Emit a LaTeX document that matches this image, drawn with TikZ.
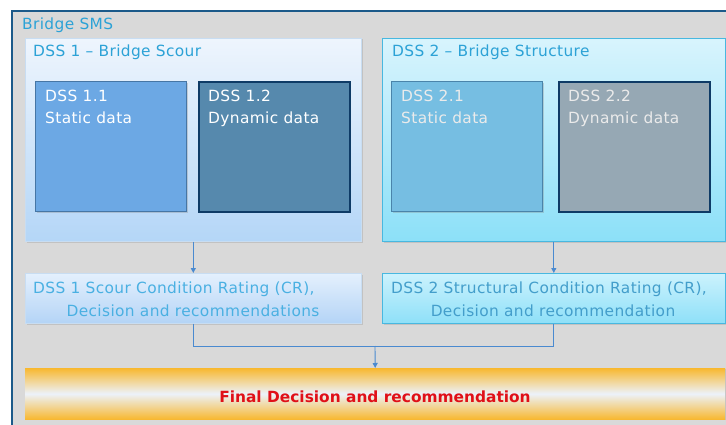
\documentclass[tikz,border=0pt]{standalone}
\usepackage{fontspec}
\setmainfont{DejaVu Sans}[LetterSpace=2.4]
\newfontfamily\tightfont{DejaVu Sans}
\usetikzlibrary{arrows.meta,shadows}

\definecolor{framecol}{HTML}{1B5A8A}
\definecolor{panelgray}{HTML}{D9D9D9}
\definecolor{titlecol}{HTML}{2CA2D6}
\definecolor{crtext}{HTML}{4AB0E2}
\definecolor{conncol}{HTML}{4A8AD0}
\definecolor{navy}{HTML}{0E3B66}
% group and box colours
\definecolor{oneedge}{HTML}{C8DDF2}
\definecolor{onetop}{HTML}{EEF5FD}
\definecolor{onebot}{HTML}{B4D6F7}
\definecolor{twoedge}{HTML}{48B8E0}
\definecolor{twotop}{HTML}{D8F4FD}
\definecolor{twobot}{HTML}{8CE0F8}
\definecolor{crtopone}{HTML}{E4F0FD}
\definecolor{crbotone}{HTML}{B4D4F6}
\definecolor{crtoptwo}{HTML}{CCF2FD}
\definecolor{crbottwo}{HTML}{8EE0F8}
\definecolor{staticone}{HTML}{6CA8E4}
\definecolor{staticoneedge}{HTML}{4676A5}
\definecolor{dynone}{HTML}{5689AD}
\definecolor{statictwo}{HTML}{76BEE2}
\definecolor{statictwoedge}{HTML}{4A84AA}
\definecolor{dyntwo}{HTML}{96A8B4}
\definecolor{amber}{HTML}{F8B830}
\definecolor{paleband}{HTML}{ECF2FA}
\definecolor{finalred}{HTML}{E01018}

\tikzset{
  x=1pt, y=-1pt,
  txt/.style={font=\fontsize{15.4}{22}\selectfont, inner sep=0pt, anchor=base west},
  groupbox/.style={draw=#1, line width=0.6pt, anchor=north west,
    drop shadow={shadow xshift=1.2pt, shadow yshift=-1.2pt, opacity=0.25}},
  databox/.style={anchor=north west, minimum width=151pt, minimum height=130pt,
    drop shadow={shadow xshift=1pt, shadow yshift=-1pt, opacity=0.3}},
  conn/.style={draw=conncol, line width=0.9pt},
  tip/.style={-{Triangle[length=5pt,width=5pt]}},
}

\begin{document}
\begin{tikzpicture}
\useasboundingbox (0,0) rectangle (726,425);
\fill[white] (0,0) rectangle (726,425);
% grey panel with its dark frame on top and left
\fill[panelgray] (12,11) rectangle (726,425);
\draw[framecol, line width=2pt] (12,425) -- (12,11) -- (726,11);
\node[txt, text=titlecol] (sms) at (22,30) {Bridge SMS};

% DSS 1 group
\node[groupbox=oneedge, top color=onetop, bottom color=onebot,
      minimum width=336pt, minimum height=203pt] (dss1) at (25,38) {};
\node[txt, text=titlecol] (t1) at (33,57) {DSS 1 – Bridge Scour};
\node[databox, fill=staticone, draw=staticoneedge, line width=1.4pt] (d11) at (35,81) {};
\node[txt, text=white] (d11a) at (45,102) {DSS 1.1};
\node[txt, text=white] (d11b) at (45,124) {Static data};
\node[databox, fill=dynone, draw=navy, line width=2pt] (d12) at (198,81) {};
\node[txt, text=white] (d12a) at (208,102) {DSS 1.2};
\node[txt, text=white] (d12b) at (208,124) {Dynamic data};

% DSS 2 group
\node[groupbox=twoedge, top color=twotop, bottom color=twobot,
      minimum width=343pt, minimum height=203pt] (dss2) at (382,38) {};
\node[txt, text=titlecol] (t2) at (392,57) {DSS 2 – Bridge Structure};
\node[databox, fill=statictwo, draw=statictwoedge, line width=1.4pt] (d21) at (391,81) {};
\node[txt, text=white!92!black] (d21a) at (401,102) {DSS 2.1};
\node[txt, text=white!92!black] (d21b) at (401,124) {Static data};
\node[databox, fill=dyntwo, draw=navy, line width=2pt] (d22) at (558,81) {};
\node[txt, text=white!92!black] (d22a) at (568,102) {DSS 2.2};
\node[txt, text=white!92!black] (d22b) at (568,124) {Dynamic data};

% condition rating boxes
\node[groupbox=oneedge, top color=crtopone, bottom color=crbotone,
      minimum width=336pt, minimum height=50pt] (cr1) at (25,273) {};
\node[txt, text=crtext] (cr1a) at (33,293) {DSS 1 Scour Condition Rating (CR),};
\node[txt, text=crtext, anchor=base] (cr1b) at (193,316) {Decision and recommendations};
\node[groupbox=twoedge, top color=crtoptwo, bottom color=crbottwo,
      minimum width=343pt, minimum height=50pt] (cr2) at (382,273) {};
\node[txt, text=crtext!90!black] (cr2a) at (391,293) {DSS 2 Structural Condition Rating (CR),};
\node[txt, text=crtext!90!black, anchor=base] (cr2b) at (553,316) {Decision and recommendation};

% final decision bar
\node[anchor=north west, minimum width=700pt, minimum height=51pt,
      top color=amber, bottom color=amber, middle color=paleband,
      drop shadow={shadow xshift=1pt, shadow yshift=-1pt, opacity=0.25}] (final) at (25,368) {};
\node[font=\fontsize{15.4}{18}\tightfont\bfseries, text=finalred, inner sep=0pt, anchor=base] (finalt) at (375,402) {Final Decision and recommendation};

% connectors
\coordinate (join) at (375,346);
\draw[conn, tip] (dss1.south) -- (cr1.north);
\draw[conn, tip] (dss2.south) -- (cr2.north);
\draw[conn] (cr1.south) |- (join);
\draw[conn] (cr2.south) |- (join);
\draw[conn, tip] (join) -- (final.north);
\end{tikzpicture}
\end{document}
